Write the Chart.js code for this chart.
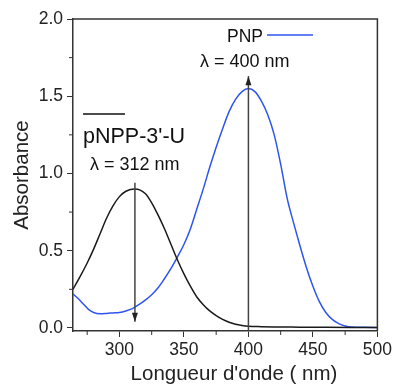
<!DOCTYPE html>
<html>
<head>
<meta charset="utf-8">
<script src="https://cdn.jsdelivr.net/npm/chart.js@4"></script>
<style>
  html, body { margin: 0; padding: 0; background: #fff; }
  #wrap { width: 395px; height: 392px; }
</style>
</head>
<body>
<div id="wrap"><canvas id="spectra" width="395" height="392"></canvas></div>
<script>
// wavelengths (nm) and absorbance
let pnppWavelengths = [264, 270, 275, 280, 285, 290, 295, 300, 305, 312, 320, 325, 330, 335, 340, 345, 350, 355, 360, 365, 370, 375, 380, 385, 390, 395, 400, 410, 420, 440, 460, 480, 500];
let pnppAbsorbance = [0.25, 0.34, 0.42, 0.51, 0.61, 0.71, 0.79, 0.85, 0.885, 0.90, 0.87, 0.81, 0.73, 0.64, 0.54, 0.44, 0.35, 0.27, 0.20, 0.15, 0.11, 0.08, 0.055, 0.037, 0.024, 0.016, 0.011, 0.008, 0.006, 0.005, 0.004, 0.003, 0.002];

let pnpWavelengths = [264, 268, 272, 276, 280, 285, 290, 295, 300, 305, 310, 315, 320, 325, 330, 335, 340, 345, 350, 355, 360, 365, 370, 375, 380, 385, 390, 395, 400, 405, 410, 415, 420, 425, 430, 435, 440, 445, 450, 455, 460, 465, 470, 475, 480, 490, 500];
let pnpAbsorbance = [0.22, 0.19, 0.155, 0.12, 0.10, 0.092, 0.094, 0.097, 0.10, 0.11, 0.125, 0.15, 0.18, 0.215, 0.26, 0.32, 0.385, 0.46, 0.54, 0.64, 0.77, 0.90, 1.04, 1.17, 1.29, 1.40, 1.48, 1.53, 1.55, 1.53, 1.47, 1.38, 1.25, 1.06, 0.84, 0.68, 0.53, 0.39, 0.27, 0.17, 0.10, 0.055, 0.028, 0.013, 0.006, 0.004, 0.003];

let xTicks = [300, 350, 400, 450, 500];
let xMinorTicks = [275, 325, 375, 425, 475];
let yTicks = [0, 0.5, 1.0, 1.5, 2.0];
let yMinorTicks = [0.25, 0.75, 1.25, 1.75];

// peak markers: [wavelength, from absorbance, to absorbance]
let pnppArrow = [312, 0.94, 0.04];
let pnpArrow = [400, -0.02, 1.63];

let axisColor = '#333';
let fontFamily = 'Arial, "Liberation Sans", sans-serif';

function toPoints(xs, ys) {
    return xs.map((x, i) => ({ x: x, y: ys[i] }));
}

function arrow(ctx, x, y1, y2) {
    ctx.beginPath();
    ctx.moveTo(x, y1);
    ctx.lineTo(x, y2);
    ctx.stroke();
    let dir = y2 > y1 ? 1 : -1;
    ctx.beginPath();
    ctx.moveTo(x, y2);
    ctx.lineTo(x - 3, y2 - dir * 9);
    ctx.lineTo(x + 3, y2 - dir * 9);
    ctx.closePath();
    ctx.fill();
}

let decorations = {
    id: 'decorations',
    afterDatasetsDraw(chart) {
        let ctx = chart.ctx;
        let a = chart.chartArea;
        let xs = chart.scales.x;
        let ys = chart.scales.y;
        ctx.save();

        // top and right frame
        ctx.strokeStyle = axisColor;
        ctx.lineWidth = 1.5;
        ctx.beginPath();
        ctx.moveTo(a.left, a.top);
        ctx.lineTo(a.right, a.top);
        ctx.lineTo(a.right, a.bottom);
        ctx.stroke();

        // minor ticks
        ctx.lineWidth = 1;
        ctx.beginPath();
        xMinorTicks.forEach(v => {
            let px = xs.getPixelForValue(v);
            ctx.moveTo(px, a.bottom);
            ctx.lineTo(px, a.bottom + 4);
        });
        yMinorTicks.forEach(v => {
            let py = ys.getPixelForValue(v);
            ctx.moveTo(a.left, py);
            ctx.lineTo(a.left - 4, py);
        });
        ctx.stroke();

        // peak arrows
        ctx.strokeStyle = '#444';
        ctx.fillStyle = '#222';
        ctx.lineWidth = 1.5;
        arrow(ctx, xs.getPixelForValue(pnppArrow[0]), ys.getPixelForValue(pnppArrow[1]), ys.getPixelForValue(pnppArrow[2]));
        arrow(ctx, xs.getPixelForValue(pnpArrow[0]), ys.getPixelForValue(pnpArrow[1]), ys.getPixelForValue(pnpArrow[2]));

        // labels
        ctx.fillStyle = '#111';
        ctx.textBaseline = 'alphabetic';
        ctx.textAlign = 'left';
        ctx.font = '21.5px ' + fontFamily;
        ctx.fillText("pNPP-3'-U", 83, 143);
        ctx.font = '18px ' + fontFamily;
        ctx.fillText('\u03bb = 312 nm', 90, 170);
        ctx.font = '17.5px ' + fontFamily;
        ctx.fillText('PNP', 227, 42);
        ctx.font = '18px ' + fontFamily;
        ctx.fillText('\u03bb = 400 nm', 200, 67);

        // x axis title
        ctx.fillStyle = '#222';
        ctx.textAlign = 'center';
        ctx.font = '20.5px ' + fontFamily;
        ctx.fillText("Longueur d'onde ( nm)", 234, 380);

        // legend line samples
        ctx.lineWidth = 1.5;
        ctx.strokeStyle = '#111';
        ctx.beginPath();
        ctx.moveTo(83, 114);
        ctx.lineTo(125, 114);
        ctx.stroke();
        ctx.strokeStyle = '#2f55f0';
        ctx.beginPath();
        ctx.moveTo(267, 35);
        ctx.lineTo(313, 35);
        ctx.stroke();

        ctx.restore();
    }
};

Chart.defaults.font.family = fontFamily;
Chart.defaults.color = '#222';

new Chart(document.getElementById('spectra').getContext('2d'), {
    type: 'line',
    data: {
        datasets: [{
            label: "pNPP-3'-U",
            data: toPoints(pnppWavelengths, pnppAbsorbance),
            borderColor: '#1a1a1a',
            borderWidth: 1.5,
            pointRadius: 0,
            cubicInterpolationMode: 'monotone'
        }, {
            label: 'PNP',
            data: toPoints(pnpWavelengths, pnpAbsorbance),
            borderColor: '#2f55f0',
            borderWidth: 1.5,
            pointRadius: 0,
            cubicInterpolationMode: 'monotone'
        }]
    },
    options: {
        responsive: false,
        animation: false,
        layout: { padding: { top: 19, right: 15, left: 0, bottom: 0 } },
        plugins: {
            legend: { display: false },
            tooltip: { enabled: false }
        },
        scales: {
            x: {
                type: 'linear',
                min: 264,
                max: 500,
                afterBuildTicks: s => { s.ticks = xTicks.map(v => ({ value: v })); },
                afterFit: s => { s.height = 61; },
                grid: { drawOnChartArea: false, tickLength: 6, color: axisColor, tickWidth: 1 },
                border: { color: axisColor, width: 1.5 },
                ticks: { font: { size: 17.5 }, padding: 3, maxRotation: 0, color: '#222' }
            },
            y: {
                min: -0.02,
                max: 2.0,
                afterBuildTicks: s => { s.ticks = yTicks.map(v => ({ value: v })); },
                afterFit: s => { s.width = 73; },
                grid: { drawOnChartArea: false, tickLength: 6, color: axisColor, tickWidth: 1 },
                border: { color: axisColor, width: 1.5 },
                ticks: { font: { size: 17.5 }, padding: 4, color: '#222', callback: v => v.toFixed(1) },
                title: { display: true, text: 'Absorbance', font: { size: 20.5 }, padding: { top: 10, bottom: 0 }, color: '#222' }
            }
        }
    },
    plugins: [decorations]
});
</script>
</body>
</html>
